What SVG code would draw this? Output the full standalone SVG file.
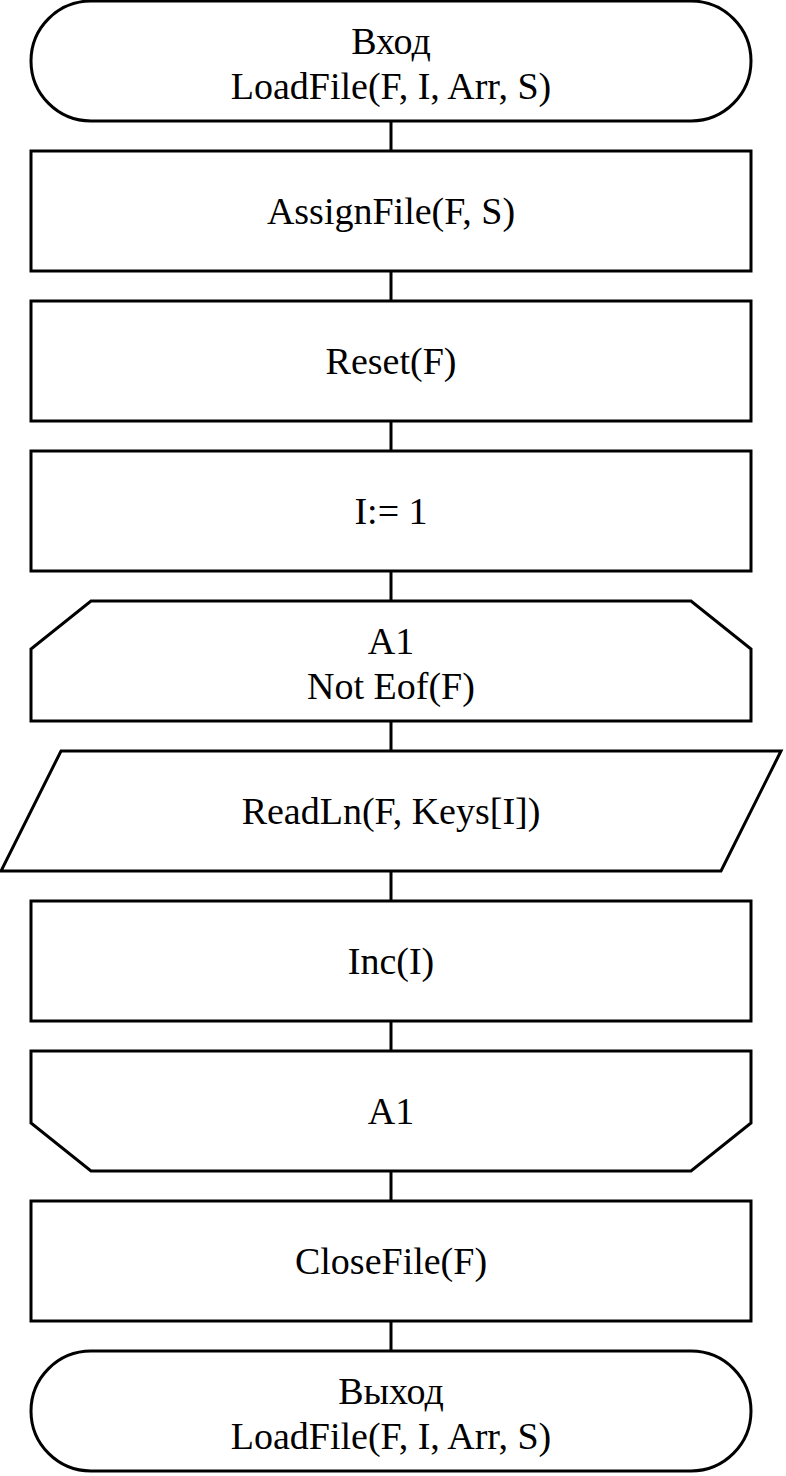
<svg xmlns="http://www.w3.org/2000/svg" width="786" height="1476" viewBox="0 0 786 1476">
<style>
.s{fill:#fff;stroke:#000;stroke-width:3}
.c{stroke:#000;stroke-width:3;fill:none}
text{font-family:"Liberation Serif","Times New Roman",serif;font-size:38px;text-anchor:middle;fill:#000}
</style>
<rect width="786" height="1476" fill="#fff"/>
<g id="connectors">
<path class="c" d="M391 121V151M391 271V301M391 421V451M391 571V601M391 721V751M391 871V901M391 1021V1051M391 1171V1201M391 1321V1351"/>
</g>
<g id="start"><rect class="s" x="31" y="1" width="720" height="120" rx="60" ry="60"/><text x="391" y="54">Вход</text><text x="391" y="99">LoadFile(F, I, Arr, S)</text></g>
<g id="assign"><rect class="s" x="31" y="151" width="720" height="120"/><text x="391" y="224">AssignFile(F, S)</text></g>
<g id="reset"><rect class="s" x="31" y="301" width="720" height="120"/><text x="391" y="374">Reset(F)</text></g>
<g id="init"><rect class="s" x="31" y="451" width="720" height="120"/><text x="391" y="524">I:= 1</text></g>
<g id="loopStart"><polygon class="s" points="91,601 691,601 751,649 751,721 31,721 31,649"/><text x="391" y="654">A1</text><text x="391" y="699">Not Eof(F)</text></g>
<g id="read"><polygon class="s" points="61,751 781,751 721,871 1,871"/><text x="391" y="824">ReadLn(F, Keys[I])</text></g>
<g id="inc"><rect class="s" x="31" y="901" width="720" height="120"/><text x="391" y="974">Inc(I)</text></g>
<g id="loopEnd"><polygon class="s" points="31,1051 751,1051 751,1123 691,1171 91,1171 31,1123"/><text x="391" y="1124">A1</text></g>
<g id="close"><rect class="s" x="31" y="1201" width="720" height="120"/><text x="391" y="1274">CloseFile(F)</text></g>
<g id="end"><rect class="s" x="31" y="1351" width="720" height="120" rx="60" ry="60"/><text x="391" y="1404">Выход</text><text x="391" y="1449">LoadFile(F, I, Arr, S)</text></g>
</svg>
